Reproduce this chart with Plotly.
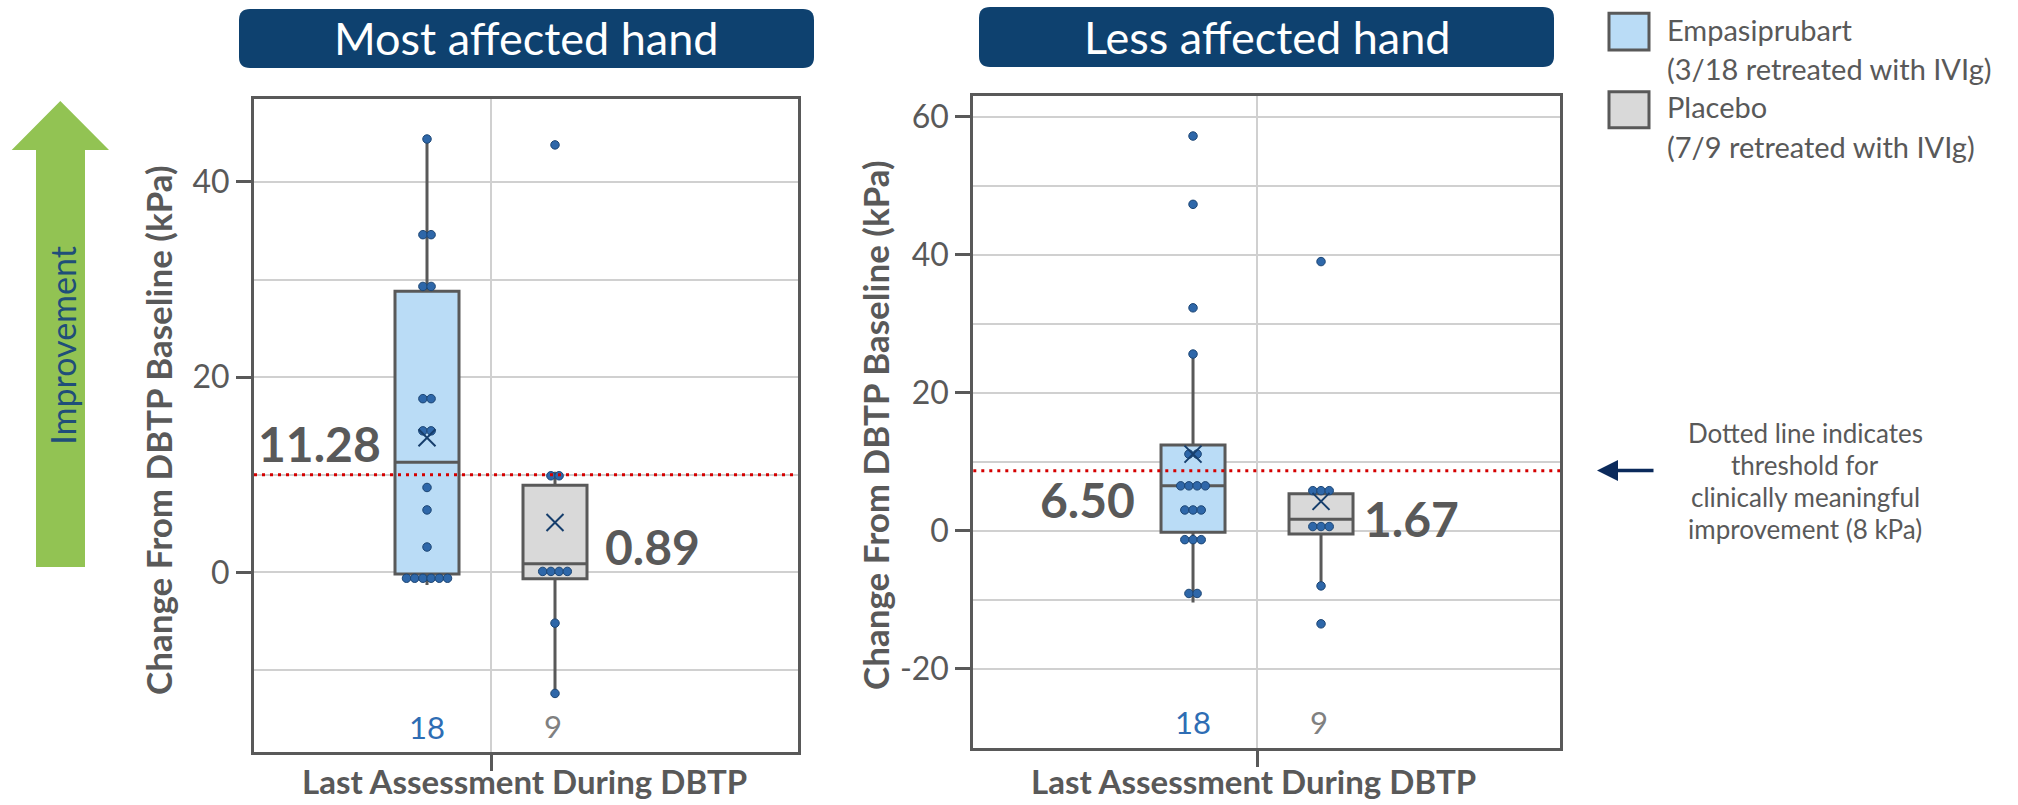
import plotly.graph_objects as go

W, H = 2018, 805

# ---------------- data ----------------
panel_titles = ["Most affected hand", "Less affected hand"]
x_title = "Last Assessment During DBTP"
y_title = "Change From DBTP Baseline (kPa)"
legend_names = ["Empasiprubart", "Placebo"]
legend_notes = ["(3/18 retreated with IVIg)", "(7/9 retreated with IVIg)"]
note_lines = ["Dotted line indicates", "threshold for", "clinically meaningful",
              "improvement (8 kPa)"]
arrow_text = "Improvement"

most_emp = [44.4, 34.6, 34.6, 29.3, 29.3, 17.8, 17.8, 14.5, 14.5, 8.7, 6.4, 2.6,
            -0.6, -0.6, -0.6, -0.6, -0.6, -0.6]
most_pbo = [43.8, 9.9, 9.9, 0.1, 0.1, 0.1, 0.1, -5.2, -12.4]
less_emp = [57.2, 47.3, 32.3, 25.6, 11.1, 11.1, 6.5, 6.5, 6.5, 6.5, 3.0, 3.0, 3.0,
            -1.3, -1.3, -1.3, -9.1, -9.1]
less_pbo = [39.0, 5.8, 5.8, 5.8, 0.6, 0.6, 0.6, -8.0, -13.5]

# box statistics: q1, median, q3, lower whisker, upper whisker, mean
most_emp_stats = [-0.17, 11.28, 28.8, -1.3, 44.4, 13.8]
most_pbo_stats = [-0.65, 0.89, 8.94, -12.4, 10.3, 5.12]
less_emp_stats = [-0.23, 6.50, 12.42, -10.4, 25.6, 11.1]
less_pbo_stats = [-0.48, 1.67, 5.35, -7.96, 5.9, 4.25]

n_emp, n_pbo = 18, 9
thresholds = [10.0, 8.7]

# ---------------- styling ----------------
FONT = "Lato"
GRAY = "#595959"
GRID = "#D0D0D0"
FILL = ["#BADCF6", "#D9D9D9"]
DOT = "#2E67A9"
DOT_EDGE = "#1D4674"
MEAN = "#163E6C"
RED = "#D40000"
NAVY = "#0E416F"
GREEN = "#92C353"
N_COLORS = ["#2E6DB4", "#808080"]


def px(x):
    return x / W


def py(y):
    return 1 - y / H


def swarm(values, center, step):
    counts = {}
    for v in values:
        counts[v] = counts.get(v, 0) + 1
    seen = {}
    xs = []
    for v in values:
        n = counts[v]
        i = seen.get(v, 0)
        seen[v] = i + 1
        xs.append(center + (i - (n - 1) / 2) * step)
    return xs


fig = go.Figure()

panels = [
    dict(xa="x", ya="y", data=[most_emp, most_pbo], stats=[most_emp_stats, most_pbo_stats]),
    dict(xa="x2", ya="y2", data=[less_emp, less_pbo], stats=[less_emp_stats, less_pbo_stats]),
]
box_pos = [-1.0, 1.0]
step = 8.2 / 64

for p in panels:
    for g in range(2):
        q1, med, q3, lo, hi, mean = p["stats"][g]
        fig.add_trace(go.Box(
            x=[box_pos[g]], q1=[q1], median=[med], q3=[q3],
            lowerfence=[lo], upperfence=[hi],
            width=1.0, whiskerwidth=0, boxpoints=False,
            fillcolor=FILL[g], line=dict(color=GRAY, width=3),
            xaxis=p["xa"], yaxis=p["ya"], showlegend=False, hoverinfo="skip"))
        vals = p["data"][g]
        fig.add_trace(go.Scatter(
            x=swarm(vals, box_pos[g], step), y=vals, mode="markers",
            marker=dict(size=8.5, color=DOT, line=dict(color=DOT_EDGE, width=1)),
            xaxis=p["xa"], yaxis=p["ya"], showlegend=False))
        fig.add_trace(go.Scatter(
            x=[box_pos[g]], y=[mean], mode="markers",
            marker=dict(symbol="x-thin", size=17, line=dict(color=MEAN, width=2)),
            xaxis=p["xa"], yaxis=p["ya"], showlegend=False))

axis_common = dict(showline=True, mirror=True, linecolor=GRAY, linewidth=3,
                   gridcolor=GRID, gridwidth=1.5, zeroline=False,
                   tickfont=dict(family=FONT, size=32, color=GRAY))

fig.update_layout(
    width=W, height=H, margin=dict(l=0, r=0, t=0, b=0),
    paper_bgcolor="white", plot_bgcolor="white",
    xaxis=dict(domain=[px(254), px(797.7)], range=[-3.703, 4.792],
               tickvals=[0], ticktext=[""], ticks="outside", ticklen=16,
               tickwidth=3, tickcolor=GRAY, showgrid=True, **axis_common),
    yaxis=dict(domain=[py(752), py(99)], range=[-18.4, 48.5],
               tickvals=[0, 20, 40], ticktext=["0", "20", "40"],
               ticks="outside", ticklen=15, tickwidth=3, tickcolor=GRAY,
               showgrid=True,
               minor=dict(tickmode="array", tickvals=[-10, 10, 30], showgrid=True,
                          gridcolor=GRID, gridwidth=1.5, ticks=""),
               **axis_common),
    xaxis2=dict(domain=[px(973.3), px(1560)], range=[-4.433, 4.734], anchor="y2",
                tickvals=[0], ticktext=[""], ticks="outside", ticklen=16,
                tickwidth=3, tickcolor=GRAY, showgrid=True, **axis_common),
    yaxis2=dict(domain=[py(748.3), py(96)], range=[-31.54, 63.0], anchor="x2",
                tickvals=[-20, 0, 20, 40, 60], ticktext=["-20", "0", "20", "40", "60"],
                ticks="outside", ticklen=15, tickwidth=3, tickcolor=GRAY,
                showgrid=True,
                minor=dict(tickmode="array", tickvals=[-10, 10, 30, 50], showgrid=True,
                           gridcolor=GRID, gridwidth=1.5, ticks=""),
                **axis_common),
)

shapes = []
# threshold lines
for i, p in enumerate(panels):
    shapes.append(dict(type="line", xref=f"{p['xa']} domain", yref=p["ya"],
                       x0=0, x1=1, y0=thresholds[i], y1=thresholds[i],
                       line=dict(color=RED, width=3, dash="3px,5px"), layer="above"))


def rrect(x0, y0, x1, y1, r):
    pts = [
        f"M {px(x0 + r)},{py(y0)}", f"L {px(x1 - r)},{py(y0)}",
        f"Q {px(x1)},{py(y0)} {px(x1)},{py(y0 + r)}", f"L {px(x1)},{py(y1 - r)}",
        f"Q {px(x1)},{py(y1)} {px(x1 - r)},{py(y1)}", f"L {px(x0 + r)},{py(y1)}",
        f"Q {px(x0)},{py(y1)} {px(x0)},{py(y1 - r)}", f"L {px(x0)},{py(y0 + r)}",
        f"Q {px(x0)},{py(y0)} {px(x0 + r)},{py(y0)}", "Z"]
    return " ".join(pts)


header_boxes = [(239, 9, 814, 68), (979, 7, 1554, 67)]
for (x0, y0, x1, y1) in header_boxes:
    shapes.append(dict(type="path", xref="paper", yref="paper", path=rrect(x0, y0, x1, y1, 11),
                       fillcolor=NAVY, line=dict(width=0)))

# green arrow
arrow_pts = [(60.3, 101), (109, 150), (85, 150), (85, 567), (36, 567), (36, 150), (11.7, 150)]
path = "M " + " L ".join(f"{px(x)},{py(y)}" for x, y in arrow_pts) + " Z"
shapes.append(dict(type="path", xref="paper", yref="paper", path=path,
                   fillcolor=GREEN, line=dict(width=0)))

# legend swatches
legend_boxes = [(1609, 13.3, 1649, 50), (1609, 91.7, 1649, 127.7)]
for g, (x0, y0, x1, y1) in enumerate(legend_boxes):
    shapes.append(dict(type="rect", xref="paper", yref="paper",
                       x0=px(x0), x1=px(x1), y0=py(y1), y1=py(y0),
                       fillcolor=FILL[g], line=dict(color=GRAY, width=3)))

fig.update_layout(shapes=shapes)

ann = []


def text(x, y, s, size, color=GRAY, bold=False, xanchor="center", angle=0, align="center"):
    ann.append(dict(x=px(x), y=py(y), xref="paper", yref="paper", text=s, showarrow=False,
                    xanchor=xanchor, yanchor="middle", textangle=angle, align=align,
                    font=dict(family=FONT, size=size, color=color,
                              weight="bold" if bold else "normal")))


# headers
text(526.5, 38.5, panel_titles[0], 45, "white")
text(1266.5, 37, panel_titles[1], 45, "white")
# axis titles
text(158, 430, y_title, 35, bold=True, angle=-90)
text(875, 425, y_title, 35, bold=True, angle=-90)
text(524, 781, x_title, 33, bold=True)
text(1253, 781, x_title, 33, bold=True)
# improvement arrow label
text(61.7, 345, arrow_text, 34, "#1F4E79", angle=-90)
# n labels
text(427, 726.7, str(n_emp), 31, N_COLORS[0])
text(553, 725.7, str(n_pbo), 31, N_COLORS[1])
text(1193, 721.7, str(n_emp), 31, N_COLORS[0])
text(1319, 721.5, str(n_pbo), 31, N_COLORS[1])
# median labels
text(383, 443, f"{most_emp_stats[1]:.2f}", 48, bold=True, xanchor="right")
text(603, 546.7, f"{most_pbo_stats[1]:.2f}", 48, bold=True, xanchor="left")
text(1137, 500, f"{less_emp_stats[1]:.2f}", 48, bold=True, xanchor="right")
text(1362, 518, f"{less_pbo_stats[1]:.2f}", 48, bold=True, xanchor="left")
# legend texts
text(1665, 30, legend_names[0], 29, xanchor="left")
text(1665, 68, legend_notes[0], 29, xanchor="left")
text(1665, 107, legend_names[1], 29, xanchor="left")
text(1665, 146, legend_notes[1], 29, xanchor="left")
# note (one line each)
for s, yy in zip(note_lines, [433, 465, 497, 529]):
    text(1805, yy, s, 26)
# arrow pointing to threshold
ann.append(dict(x=px(1597), y=py(470.5), ax=58, ay=0, axref="pixel", ayref="pixel",
                xref="paper", yref="paper", text="", showarrow=True, arrowhead=2,
                arrowsize=1.2, arrowwidth=3.5, arrowcolor="#0B2A5B"))

fig.update_layout(annotations=ann)

fig.write_html("out.html", config={"displayModeBar": False},
               post_script="document.body.style.margin='0';document.body.style.overflow='hidden';")
